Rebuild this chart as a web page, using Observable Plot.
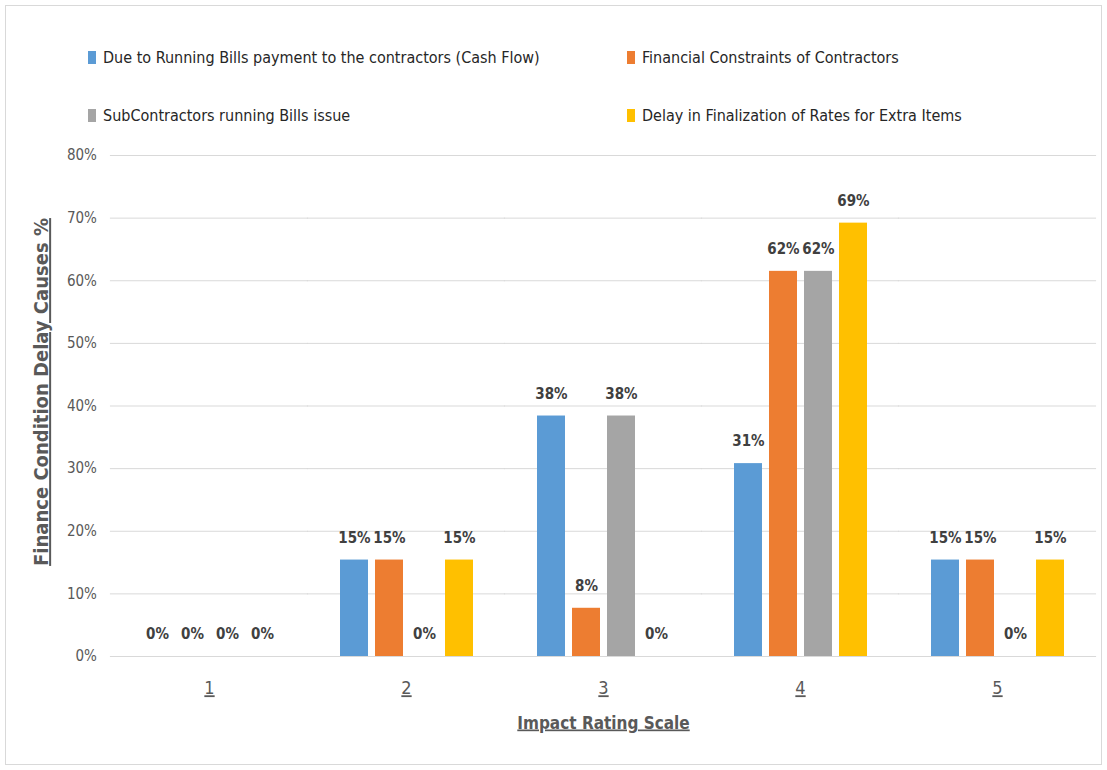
<!DOCTYPE html>
<html>
<head>
<meta charset="utf-8">
<script src="https://cdn.jsdelivr.net/npm/d3@7"></script>
<script src="https://cdn.jsdelivr.net/npm/@observablehq/plot@0.6"></script>
<style>
  html, body { margin: 0; padding: 0; background: #fff; }
  body { font-family: "Liberation Sans Narrow", "DejaVu Sans Condensed", sans-serif; }
  #wrap { position: relative; width: 1107px; height: 770px; }
  #frame { position: absolute; left: 5px; top: 5px; width: 1097px; height: 760px; border: 1px solid #d9d9d9; box-sizing: border-box; }
  #legend { position: absolute; left: 0; top: 0; width: 1107px; height: 140px; }
  .item { position: absolute; display: flex; align-items: center; font-size: 16px; color: #262626; white-space: nowrap; }
  .sw { width: 8px; height: 13px; margin-right: 7px; }
  #chart { position: absolute; left: 0; top: 140px; }
</style>
</head>
<body>
<div id="wrap">
  <div id="frame"></div>
  <div id="legend"></div>
  <div id="chart"></div>
</div>
<script>
const categories = ["1", "2", "3", "4", "5"];
const seriesNames = [
  "Due to Running Bills payment to the contractors (Cash Flow)",
  "Financial Constraints of Contractors",
  "SubContractors running Bills issue",
  "Delay in Finalization of Rates for Extra Items"
];
const colors = ["#5B9BD5", "#ED7D31", "#A5A5A5", "#FFC000"];
const cashFlow       = [0, 15.4, 38.4, 30.8, 15.4];
const finConstraints = [0, 15.4, 7.7, 61.5, 15.4];
const subContractors = [0, 0, 38.4, 61.5, 0];
const extraRates     = [0, 15.4, 0, 69.2, 15.4];
const yTicks = [0, 10, 20, 30, 40, 50, 60, 70, 80];

const seriesValues = [cashFlow, finConstraints, subContractors, extraRates];
const data = [];
categories.forEach((c, i) => {
  seriesNames.forEach((s, j) => {
    data.push({cat: c, series: s, value: seriesValues[j][i]});
  });
});

// Legend
const legend = document.getElementById("legend");
const legendPos = [[88, 57], [627, 57], [88, 115], [627, 115]];
seriesNames.forEach((s, j) => {
  const it = document.createElement("div");
  it.className = "item";
  it.style.left = legendPos[j][0] + "px";
  it.style.top = (legendPos[j][1] - 11) + "px";
  it.style.height = "22px";
  const sw = document.createElement("div");
  sw.className = "sw";
  sw.style.background = colors[j];
  const tx = document.createElement("span");
  tx.textContent = s;
  it.appendChild(sw);
  it.appendChild(tx);
  legend.appendChild(it);
});

// layout
const W = 1107, H = 630, ML = 110, MR = 12, MT = 15, MB = 114;
const fxPadIn = 0.28, fxPadOut = 0.14;
const fxStep = (W - ML - MR) / (categories.length - fxPadIn + 2 * fxPadOut);
const halfGap = fxStep * fxPadIn / 2;       // extend grid rules across facet gaps
const firstFacetOffset = fxStep * fxPadOut; // first facet starts this far from frame left

const chart = Plot.plot({
  width: W,
  height: H,
  marginLeft: ML,
  marginRight: MR,
  marginTop: MT,
  marginBottom: MB,
  style: { fontFamily: "'Liberation Sans Narrow', 'DejaVu Sans Condensed', sans-serif", background: "transparent" },
  fx: { domain: categories, paddingInner: fxPadIn, paddingOuter: fxPadOut, label: null },
  x: { domain: seriesNames, paddingInner: 0.2, paddingOuter: 0.1, axis: null },
  y: { domain: [0, 80] },
  color: { domain: seriesNames, range: colors },
  marks: [
    Plot.ruleY(yTicks, { y: d => d, stroke: "#d9d9d9", strokeWidth: 1, strokeOpacity: 1,
      insetLeft: -halfGap - 0.5, insetRight: -halfGap - 0.5 }),
    Plot.axisY({
      ticks: yTicks, tickFormat: d => d + "%", tickSize: 0, tickPadding: 14 + firstFacetOffset,
      fontSize: 15, color: "#595959",
      label: "Finance Condition Delay Causes %", labelAnchor: "center", labelOffset: 77 + firstFacetOffset, labelArrow: "none"
    }),
    Plot.axisFx({
      anchor: "bottom", tickSize: 0, tickPadding: 25, fontSize: 18, color: "#595959",
      label: "Impact Rating Scale", labelAnchor: "center", labelOffset: 72, labelArrow: "none"
    }),
    Plot.barY(data, { fx: "cat", x: "series", y: "value", fill: "series" }),
    Plot.text(data, {
      fx: "cat", x: "series", y: "value",
      text: d => Math.round(d.value) + "%",
      dy: -22, fontSize: 15, fontWeight: "bold", fill: "#404040"
    })
  ]
});

document.getElementById("chart").appendChild(chart);

// Style axis tick labels and titles (underline, weight)
const svg = d3.select(chart);
svg.selectAll("g[aria-label='fx-axis tick label'] text").style("text-decoration", "underline");
svg.selectAll("g[aria-label='fx-axis label'] text")
  .style("text-decoration", "underline").style("font-size", "17px").style("fill", "#595959").style("font-weight", "bold");
svg.selectAll("g[aria-label='y-axis label'] text")
  .style("text-decoration", "underline").style("font-size", "20px").style("fill", "#595959").style("font-weight", "bold")
  .attr("dx", 14);
</script>
</body>
</html>
